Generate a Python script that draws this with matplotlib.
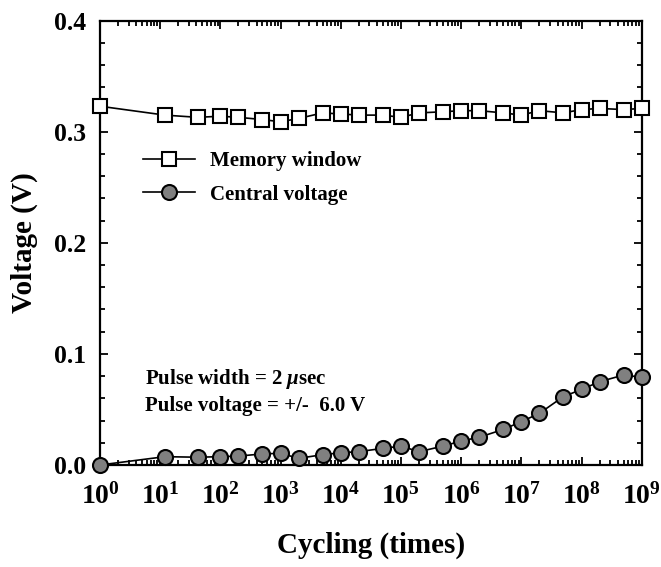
import matplotlib
matplotlib.use("Agg")
import matplotlib.pyplot as plt
from matplotlib.ticker import FixedLocator, FixedFormatter, LogLocator, NullFormatter, MultipleLocator

plt.rcParams['font.family'] = ['Liberation Serif', 'DejaVu Serif']
plt.rcParams['font.weight'] = 'bold'
plt.rcParams['mathtext.fontset'] = 'custom'
plt.rcParams['mathtext.rm'] = 'Liberation Serif:bold'
plt.rcParams['mathtext.bf'] = 'Liberation Serif:bold'
plt.rcParams['mathtext.it'] = 'Liberation Serif:bold:italic'

# ---- data ----
cycles = [1, 12, 42, 100, 200, 500, 1e3, 2e3, 5e3, 1e4, 2e4, 5e4, 1e5, 2e5,
          5e5, 1e6, 2e6, 5e6, 1e7, 2e7, 5e7, 1e8, 2e8, 5e8, 1e9]
memory_window = [0.323, 0.315, 0.313, 0.314, 0.313, 0.311, 0.309, 0.312, 0.317,
                 0.316, 0.315, 0.315, 0.313, 0.317, 0.318, 0.319, 0.319, 0.317,
                 0.315, 0.319, 0.317, 0.320, 0.321, 0.320, 0.321]
central_voltage = [0.0, 0.0075, 0.007, 0.0075, 0.008, 0.010, 0.0105, 0.006, 0.0093,
                   0.011, 0.012, 0.015, 0.017, 0.012, 0.017, 0.0216, 0.025, 0.032,
                   0.039, 0.0465, 0.0616, 0.068, 0.075, 0.081, 0.079]
xtick_exponents = [0, 1, 2, 3, 4, 5, 6, 7, 8, 9]
ytick_values = [0.0, 0.1, 0.2, 0.3, 0.4]
ytick_labels = ['0.0', '0.1', '0.2', '0.3', '0.4']

W, H = 661, 567
fig = plt.figure(figsize=(W / 100, H / 100), dpi=100)
ax = fig.add_axes([100 / W, 1 - 465 / H, (641.7 - 100) / W, (465 - 20.7) / H])

ax.plot(cycles, memory_window, color='black', lw=1.2, marker='s', ms=9.5,
        mfc='white', mec='black', mew=1.5, label='Memory window', zorder=3,
        clip_on=False)
ax.plot(cycles, central_voltage, color='black', lw=1.2, marker='o', ms=10.8,
        mfc='#808080', mec='black', mew=1.5, label='Central voltage', zorder=3,
        clip_on=False)

ax.set_xscale('log')
ax.set_xlim(1, 1e9)
ax.set_ylim(0, 0.4)
ax.xaxis.set_major_locator(FixedLocator([10.0 ** e for e in xtick_exponents]))
ax.xaxis.set_major_formatter(FixedFormatter([r'$\mathbf{10^{%d}}$' % e for e in xtick_exponents]))
ax.xaxis.set_minor_locator(LogLocator(base=10, subs=range(2, 10), numticks=100))
ax.xaxis.set_minor_formatter(NullFormatter())
ax.yaxis.set_major_locator(FixedLocator(ytick_values))
ax.yaxis.set_major_formatter(FixedFormatter(ytick_labels))
ax.yaxis.set_minor_locator(MultipleLocator(0.02))

for s in ax.spines.values():
    s.set_linewidth(1.6)
ax.tick_params(which='both', direction='in', top=True, right=True, width=1.3)
ax.tick_params(which='major', length=6)
ax.tick_params(which='minor', length=3.5)
ax.tick_params(axis='y', which='major', labelsize=18.5, pad=10)
ax.tick_params(axis='x', which='major', labelsize=20, pad=13)
for lbl in ax.get_yticklabels():
    lbl.set_fontweight('bold')

ax.set_xlabel('Cycling (times)', fontsize=21, fontweight='bold', labelpad=16)
ax.set_ylabel('Voltage (V)', fontsize=21, fontweight='bold')
ax.yaxis.set_label_coords(-(100 - 38) / (641.7 - 100), 0.5)

leg = ax.legend(loc='upper left', bbox_to_anchor=(143 / W, 1 - 151 / H),
                bbox_transform=fig.transFigure, frameon=False,
                handlelength=2.5, handletextpad=0.72, labelspacing=0.65,
                borderpad=0, borderaxespad=0, prop={'weight': 'bold', 'size': 15})

fig.text(145 / W, 1 - 379 / H, r'Pulse width = 2 $\mu$sec', fontsize=15,
         fontweight='bold', va='center', ha='left')
fig.text(145 / W, 1 - 406 / H, 'Pulse voltage = +/-  6.0 V', fontsize=15,
         fontweight='bold', va='center', ha='left')

fig.savefig('out.png', dpi=100)
